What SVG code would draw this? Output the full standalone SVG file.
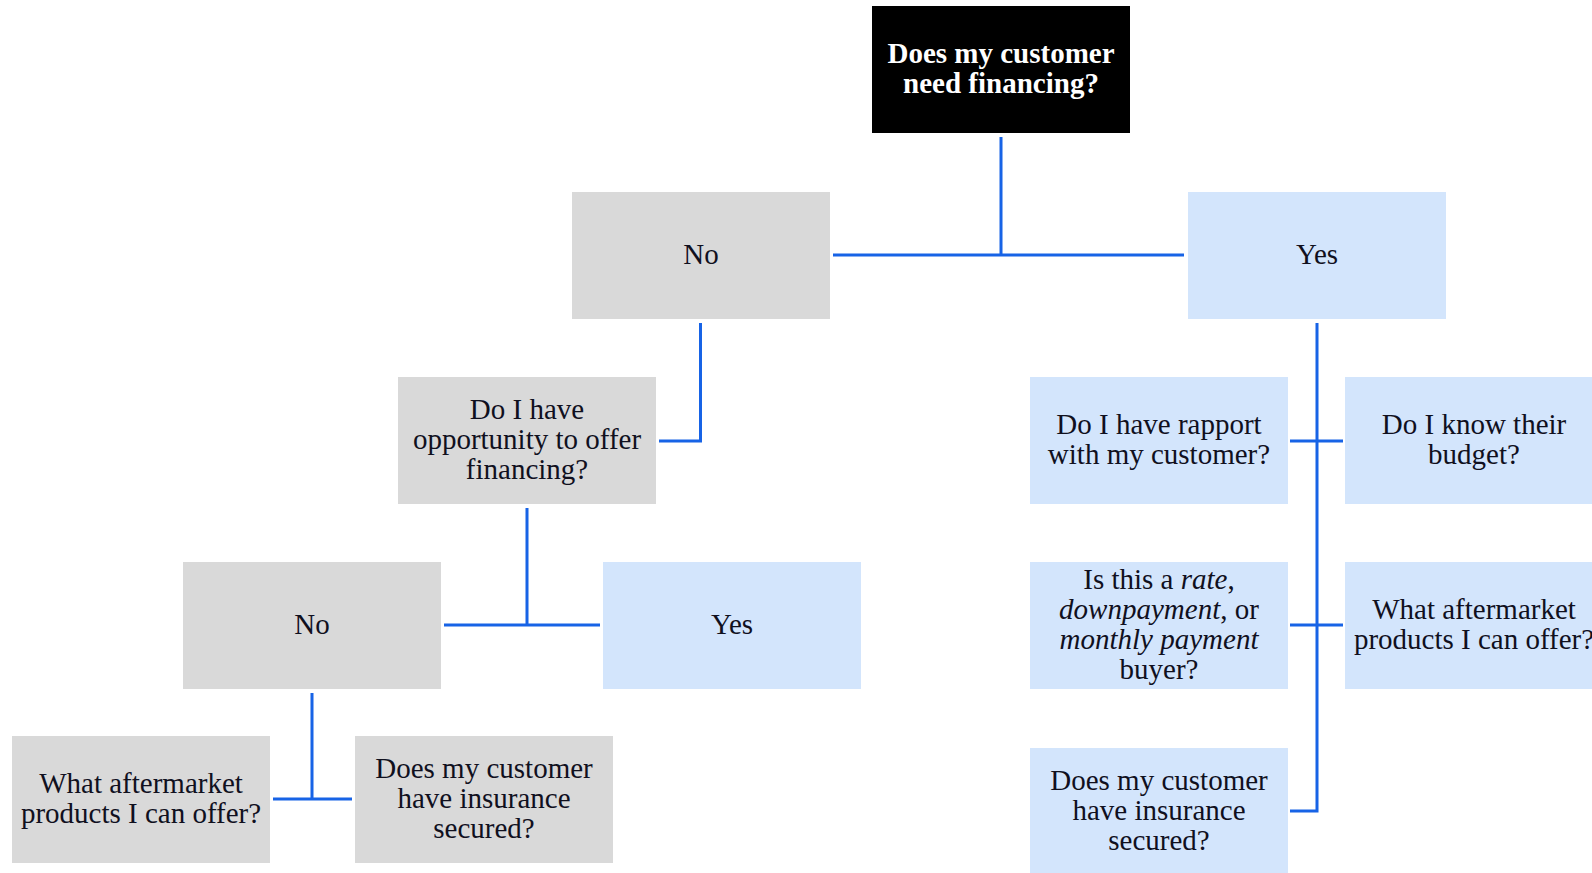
<svg xmlns="http://www.w3.org/2000/svg" width="1592" height="873" viewBox="0 0 1592 873">
<style>
.g{fill:#D9D9D9}
.b{fill:#D3E5FC}
.k{fill:#000}
text{font-family:"Liberation Serif","Times New Roman",serif;font-size:29px;fill:#10101e;text-anchor:middle}
.t{fill:#fff;font-weight:bold}
.c{fill:none;stroke:#1763E6;stroke-width:3}
</style>
<rect width="1592" height="873" fill="#fff"/>
<g id="connectors">
<path class="c" d="M1001,137 V255 M833,255 H1184"/>
<path class="c" d="M700.5,323 V441 H659"/>
<path class="c" d="M527,508 V625 M444,625 H600"/>
<path class="c" d="M312,693 V799 M273,799 H352"/>
<path class="c" d="M1317,323 V811 H1290 M1290,441 H1343 M1290,625 H1343"/>
</g>
<g id="root"><rect class="k" x="872" y="6" width="258" height="127"/><text class="t" x="1001" y="63">Does my customer</text><text class="t" x="1001" y="93">need financing?</text></g>
<g id="no1"><rect class="g" x="572" y="192" width="258" height="127"/><text x="701" y="264">No</text></g>
<g id="yes1"><rect class="b" x="1188" y="192" width="258" height="127"/><text x="1317" y="264">Yes</text></g>
<g id="opportunity"><rect class="g" x="398" y="377" width="258" height="127"/><text x="527" y="419">Do I have</text><text x="527" y="449">opportunity to offer</text><text x="527" y="479">financing?</text></g>
<g id="no2"><rect class="g" x="183" y="562" width="258" height="127"/><text x="312" y="634">No</text></g>
<g id="yes2"><rect class="b" x="603" y="562" width="258" height="127"/><text x="732" y="634">Yes</text></g>
<g id="aftermarket-left"><rect class="g" x="12" y="736" width="258" height="127"/><text x="141" y="793">What aftermarket</text><text x="141" y="823">products I can offer?</text></g>
<g id="insurance-left"><rect class="g" x="355" y="736" width="258" height="127"/><text x="484" y="778">Does my customer</text><text x="484" y="808">have insurance</text><text x="484" y="838">secured?</text></g>
<g id="rapport"><rect class="b" x="1030" y="377" width="258" height="127"/><text x="1159" y="434">Do I have rapport</text><text x="1159" y="464">with my customer?</text></g>
<g id="budget"><rect class="b" x="1345" y="377" width="258" height="127"/><text x="1474" y="434">Do I know their</text><text x="1474" y="464">budget?</text></g>
<g id="buyer"><rect class="b" x="1030" y="562" width="258" height="127"/><text x="1159" y="589">Is this a <tspan font-style="italic">rate</tspan>,</text><text x="1159" y="619"><tspan font-style="italic">downpayment</tspan>, or</text><text x="1159" y="649" font-style="italic">monthly payment</text><text x="1159" y="679">buyer?</text></g>
<g id="aftermarket-right"><rect class="b" x="1345" y="562" width="258" height="127"/><text x="1474" y="619">What aftermarket</text><text x="1474" y="649">products I can offer?</text></g>
<g id="insurance-right"><rect class="b" x="1030" y="748" width="258" height="127"/><text x="1159" y="790">Does my customer</text><text x="1159" y="820">have insurance</text><text x="1159" y="850">secured?</text></g>
</svg>
